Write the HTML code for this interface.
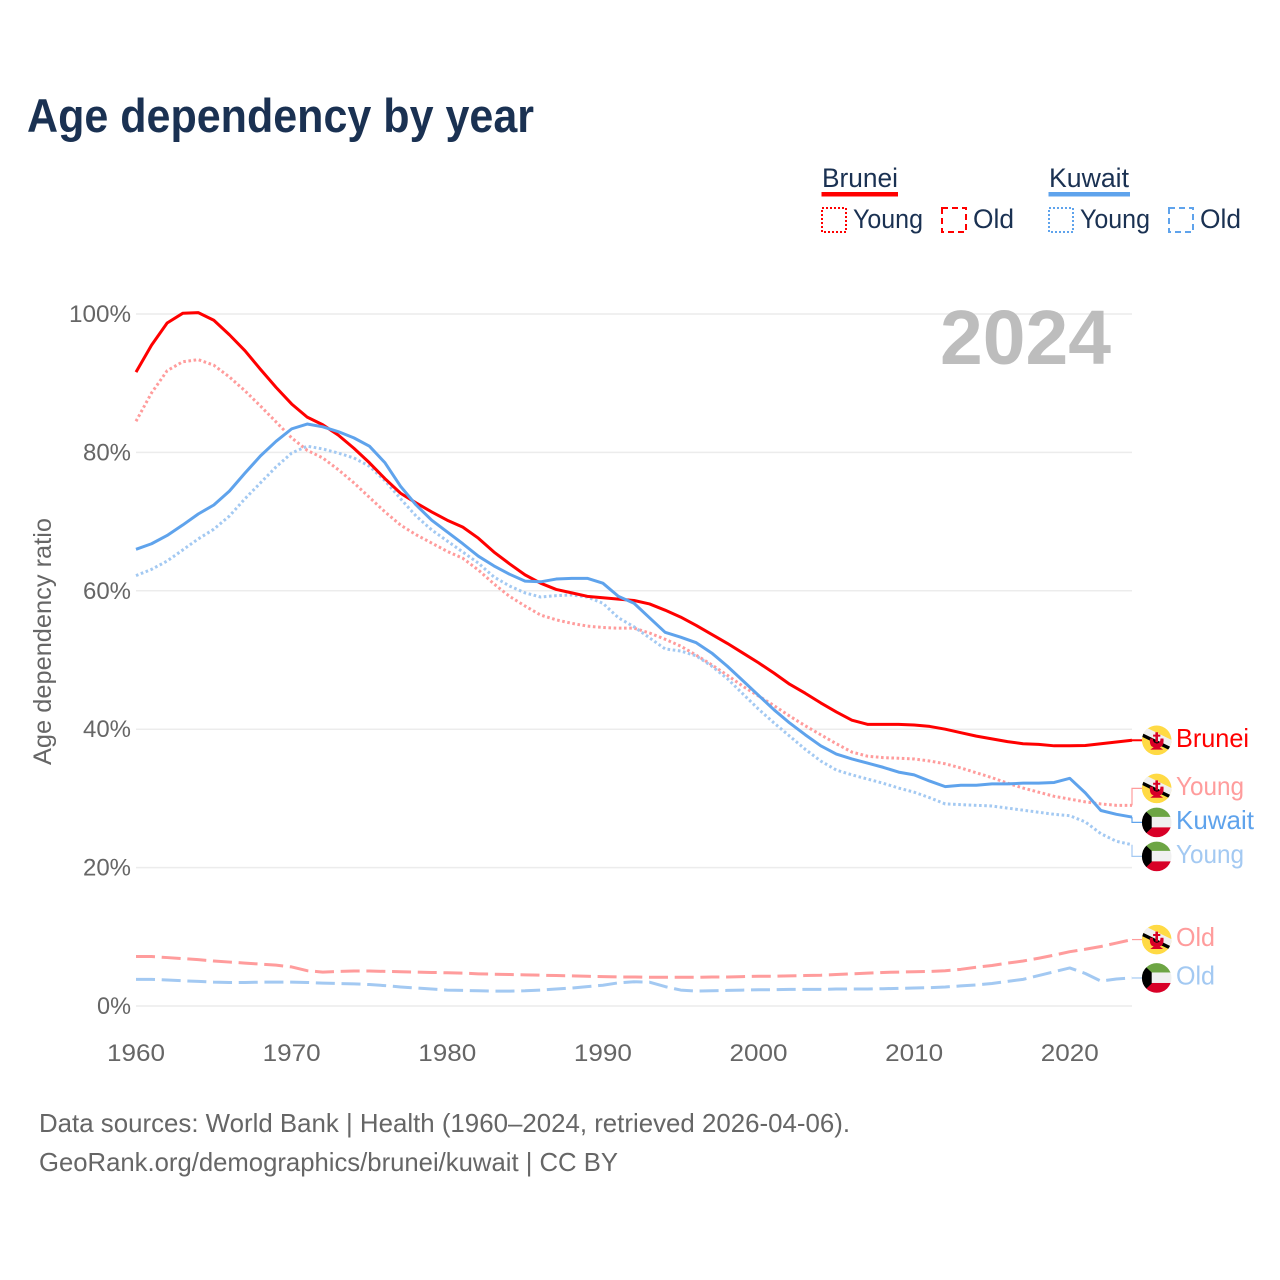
<!DOCTYPE html>
<html lang="en">
<head>
<meta charset="utf-8">
<title>Age dependency by year</title>
<style>
html,body{margin:0;padding:0;background:#fff;}
svg{display:block;}
text{font-family:"Liberation Sans","DejaVu Sans",sans-serif;}
</style>
</head>
<body>
<svg id="chart" xmlns="http://www.w3.org/2000/svg" width="1280" height="1280" viewBox="0 0 1280 1280">
  <defs>
    <clipPath id="flag-clip"><circle cx="0" cy="0" r="14.8"/></clipPath>
    <g id="flag-brunei" clip-path="url(#flag-clip)">
      <circle cx="0" cy="0" r="15" fill="#ffda44"/>
      <line x1="-18" y1="-12.5" x2="18" y2="5" stroke="#f0f0f0" stroke-width="7"/>
      <line x1="-18" y1="-7" x2="18" y2="10.5" stroke="#000" stroke-width="3.4"/>
      <path d="M-1.3,-8 L1.3,-8 L1.3,-5.6 L3.6,-5.6 L3.6,-3.6 L1.3,-3.6 L1.3,2 L-1.3,2 L-1.3,-3.6 L-3.6,-3.6 L-3.6,-5.6 L-1.3,-5.6 Z M-6.8,-1.8 L-3.8,-1.8 Q-3.8,3 0,3.2 Q3.8,3 3.8,-1.8 L6.8,-1.8 Q7.4,6.5 3,6.8 L6.4,9.4 L-6.4,9.4 L-3,6.8 Q-7.4,6.5 -6.8,-1.8 Z" fill="#d80027"/>
    </g>
    <g id="flag-kuwait" clip-path="url(#flag-clip)">
      <rect x="-15" y="-15" width="30" height="10" fill="#6da544"/>
      <rect x="-15" y="-5.5" width="30" height="11" fill="#f0f0f0"/>
      <rect x="-15" y="5" width="30" height="10" fill="#d80027"/>
      <polygon points="-15,-15 -5,-5.5 -5,5.5 -15,15" fill="#000"/>
    </g>
  </defs>

  <text x="27" y="132" font-size="47" font-weight="700" fill="#1a3152" textLength="507" lengthAdjust="spacingAndGlyphs">Age dependency by year</text>

  <g>
    <text x="822" y="187" font-size="27" fill="#1a3152" textLength="76" lengthAdjust="spacingAndGlyphs">Brunei</text>
    <rect x="821.5" y="192" width="76.5" height="4.5" fill="#ff0000"/>
    <rect x="822" y="208" width="24" height="24" fill="none" stroke="#ff0000" stroke-width="2" stroke-dasharray="2,2"/>
    <text x="853" y="228" font-size="27" fill="#1a3152" textLength="70" lengthAdjust="spacingAndGlyphs">Young</text>
    <rect x="942" y="208" width="24" height="24" fill="none" stroke="#ff0000" stroke-width="2" stroke-dasharray="6,4"/>
    <text x="973" y="228" font-size="27" fill="#1a3152" textLength="41" lengthAdjust="spacingAndGlyphs">Old</text>

    <text x="1049" y="187" font-size="27" fill="#1a3152" textLength="80" lengthAdjust="spacingAndGlyphs">Kuwait</text>
    <rect x="1048.5" y="192" width="81.5" height="4.5" fill="#5fa3ec"/>
    <rect x="1049" y="208" width="24" height="24" fill="none" stroke="#5fa3ec" stroke-width="2" stroke-dasharray="2,2"/>
    <text x="1080" y="228" font-size="27" fill="#1a3152" textLength="70" lengthAdjust="spacingAndGlyphs">Young</text>
    <rect x="1169" y="208" width="24" height="24" fill="none" stroke="#5fa3ec" stroke-width="2" stroke-dasharray="6,4"/>
    <text x="1200" y="228" font-size="27" fill="#1a3152" textLength="41" lengthAdjust="spacingAndGlyphs">Old</text>
  </g>

  <g id="grid"></g>
  <g id="y-ticks"></g>
  <g id="x-ticks"></g>

  <text transform="translate(51,641.5) rotate(-90)" text-anchor="middle" font-size="25" fill="#666666" textLength="247" lengthAdjust="spacingAndGlyphs">Age dependency ratio</text>

  <text x="940" y="364" font-size="77" font-weight="700" fill="#bdbdbd" textLength="171" lengthAdjust="spacingAndGlyphs">2024</text>

  <g id="series"></g>
  <g id="end-labels"></g>

  <text x="39" y="1132" font-size="26" fill="#666666" textLength="811" lengthAdjust="spacingAndGlyphs">Data sources: World Bank | Health (1960–2024, retrieved 2026-04-06).</text>
  <text x="39" y="1171" font-size="26" fill="#666666" textLength="579" lengthAdjust="spacingAndGlyphs">GeoRank.org/demographics/brunei/kuwait | CC BY</text>
</svg>

<script>
const years = [1960,1961,1962,1963,1964,1965,1966,1967,1968,1969,1970,1971,1972,1973,1974,1975,1976,1977,1978,1979,1980,1981,1982,1983,1984,1985,1986,1987,1988,1989,1990,1991,1992,1993,1994,1995,1996,1997,1998,1999,2000,2001,2002,2003,2004,2005,2006,2007,2008,2009,2010,2011,2012,2013,2014,2015,2016,2017,2018,2019,2020,2021,2022,2023,2024];
const bruneiTotal = [91.6,95.5,98.7,100.1,100.2,99.1,97.0,94.7,92.0,89.4,87.0,85.1,84.0,82.5,80.6,78.5,76.2,74.1,72.7,71.4,70.2,69.2,67.6,65.6,63.9,62.3,61.1,60.2,59.7,59.2,59.0,58.8,58.6,58.1,57.2,56.2,55.0,53.7,52.4,51.0,49.6,48.1,46.5,45.2,43.8,42.5,41.3,40.7,40.7,40.7,40.6,40.4,40.0,39.5,39.0,38.6,38.2,37.9,37.8,37.6,37.6,37.65,37.9,38.15,38.4];
const bruneiYoung = [84.5,88.6,91.8,93.1,93.4,92.6,90.9,88.9,86.7,84.4,82.1,80.3,79.2,77.5,75.6,73.5,71.4,69.5,68.1,66.9,65.7,64.7,63.0,61.0,59.2,57.8,56.5,55.8,55.3,54.9,54.7,54.6,54.6,53.9,53.0,52.0,50.7,49.3,47.8,46.2,44.8,43.4,41.9,40.5,39.2,37.9,36.7,36.1,35.9,35.8,35.7,35.4,35.0,34.4,33.7,33.0,32.2,31.5,30.9,30.3,29.9,29.5,29.2,29.0,29.0];
const bruneiOld = [7.15,7.15,7.0,6.85,6.7,6.5,6.35,6.2,6.05,5.9,5.65,5.1,4.9,5.0,5.05,5.05,5.0,4.95,4.9,4.85,4.8,4.75,4.65,4.6,4.55,4.5,4.45,4.4,4.35,4.3,4.25,4.2,4.2,4.15,4.15,4.15,4.15,4.2,4.2,4.25,4.3,4.3,4.35,4.4,4.45,4.55,4.65,4.75,4.85,4.9,4.95,5.0,5.1,5.3,5.6,5.85,6.2,6.5,6.9,7.35,7.85,8.2,8.6,9.1,9.6];
const kuwaitTotal = [66.0,66.8,68.0,69.5,71.1,72.4,74.4,77.0,79.5,81.6,83.4,84.1,83.7,83.0,82.1,80.9,78.5,75.1,72.4,70.2,68.5,66.8,65.0,63.6,62.4,61.4,61.3,61.7,61.8,61.8,61.1,59.2,58.2,56.1,54.0,53.3,52.5,51.0,49.1,47.0,44.9,42.8,40.9,39.2,37.6,36.4,35.7,35.1,34.5,33.8,33.4,32.5,31.7,31.9,31.9,32.1,32.1,32.2,32.2,32.3,32.9,30.8,28.25,27.7,27.3];
const kuwaitYoung = [62.2,63.1,64.3,65.9,67.5,68.9,70.8,73.3,75.6,77.9,79.9,80.9,80.5,79.9,79.2,78.0,75.9,73.3,70.8,68.8,67.2,65.6,64.0,62.0,60.7,59.7,59.1,59.3,59.4,59.1,58.2,56.1,54.8,53.2,51.6,51.3,50.6,49.1,47.3,45.1,42.9,40.9,39.0,37.1,35.4,34.1,33.4,32.8,32.2,31.5,30.9,30.1,29.2,29.1,29.0,28.9,28.6,28.3,28.0,27.7,27.5,26.6,24.9,23.8,23.3];
const kuwaitOld = [3.85,3.85,3.75,3.65,3.55,3.45,3.4,3.4,3.45,3.45,3.45,3.4,3.3,3.25,3.2,3.1,2.95,2.75,2.6,2.45,2.3,2.25,2.2,2.15,2.15,2.2,2.3,2.45,2.6,2.8,3.0,3.35,3.5,3.45,2.8,2.3,2.15,2.2,2.25,2.3,2.35,2.35,2.4,2.4,2.4,2.45,2.45,2.45,2.5,2.55,2.6,2.65,2.75,2.9,3.05,3.25,3.55,3.85,4.4,4.95,5.5,4.7,3.6,3.9,4.05];
const yTickValues = [0,20,40,60,80,100];
const yTickLabels = ["0%","20%","40%","60%","80%","100%"];
const xTickValues = [1960,1970,1980,1990,2000,2010,2020];
const xTickLabels = ["1960","1970","1980","1990","2000","2010","2020"];

const NS = "http://www.w3.org/2000/svg";
const plotLeft = 136, plotRight = 1132, plotTop = 314, plotBottom = 1006;
const leaderEnd = 1143, flagX = 1156.7, labelX = 1176, labelGap = 34;

function xScale(year) {
  return plotLeft + (year - years[0]) / (years[years.length - 1] - years[0]) * (plotRight - plotLeft);
}
function yScale(value) {
  return plotBottom - value / 100 * (plotBottom - plotTop);
}
function make(tag, parent) {
  const el = document.createElementNS(NS, tag);
  parent.appendChild(el);
  return el;
}

const grid = document.getElementById("grid");
const yTicksGroup = document.getElementById("y-ticks");
yTickValues.forEach(function (value, i) {
  const line = make("line", grid);
  
  
  line.setAttribute("x1", plotLeft);
  line.setAttribute("x2", plotRight);
  line.setAttribute("y1", yScale(value));
  line.setAttribute("y2", yScale(value));
  line.setAttribute("stroke", "#ececec");
  line.setAttribute("stroke-width", "1.5");

  const label = make("text", yTicksGroup);
  
  
  label.setAttribute("x", 131);
  label.setAttribute("y", yScale(value) + 8);
  label.setAttribute("text-anchor", "end");
  label.setAttribute("font-size", "24");
  label.setAttribute("fill", "#666666");
  label.setAttribute("textLength", yTickLabels[i].length * 14 + 6);
  label.setAttribute("lengthAdjust", "spacingAndGlyphs");
  label.textContent = yTickLabels[i];
});

const xTicksGroup = document.getElementById("x-ticks");
xTickValues.forEach(function (value, i) {
  const label = make("text", xTicksGroup);
  
  
  label.setAttribute("x", xScale(value));
  label.setAttribute("y", 1061);
  label.setAttribute("text-anchor", "middle");
  label.setAttribute("font-size", "24");
  label.setAttribute("fill", "#666666");
  label.setAttribute("textLength", "58");
  label.setAttribute("lengthAdjust", "spacingAndGlyphs");
  label.textContent = xTickLabels[i];
});

const seriesGroup = document.getElementById("series");
function drawLine(values, color, width, dash) {
  const path = make("polyline", seriesGroup);
  path.setAttribute("points", values.map(function (v, i) {
    return xScale(years[i]).toFixed(2) + "," + yScale(v).toFixed(2);
  }).join(" "));
  path.setAttribute("fill", "none");
  path.setAttribute("stroke", color);
  path.setAttribute("stroke-width", width);
  path.setAttribute("stroke-linejoin", "round");
  if (dash) path.setAttribute("stroke-dasharray", dash);
  return path;
}

const redMain = "#ff0000", redPale = "#ff9c9c", blueMain = "#5fa3ec", bluePale = "#a3c9f2";
const dotted = "2.6,2.6", dashed = "19,6.7";

const lineBruneiOld = drawLine(bruneiOld, redPale, 3, dashed);


const lineKuwaitOld = drawLine(kuwaitOld, bluePale, 3, dashed);


const lineBruneiYoung = drawLine(bruneiYoung, redPale, 3, dotted);


const lineKuwaitYoung = drawLine(kuwaitYoung, bluePale, 3, dotted);


const lineBruneiTotal = drawLine(bruneiTotal, redMain, 3);


const lineKuwaitTotal = drawLine(kuwaitTotal, blueMain, 3);



/* End labels: placed at the last value, then overlapping labels are spread apart. */
const endItems = [
  { text: "Brunei", values: bruneiTotal, color: redMain,  flag: "#flag-brunei", width: 73, dash: "" },
  { text: "Young",  values: bruneiYoung, color: redPale,  flag: "#flag-brunei", width: 68, dash: "" },
  { text: "Old",    values: bruneiOld,   color: redPale,  flag: "#flag-brunei", width: 39, dash: "10,4" },
  { text: "Kuwait", values: kuwaitTotal, color: blueMain, flag: "#flag-kuwait", width: 78, dash: "" },
  { text: "Young",  values: kuwaitYoung, color: bluePale, flag: "#flag-kuwait", width: 68, dash: "" },
  { text: "Old",    values: kuwaitOld,   color: bluePale, flag: "#flag-kuwait", width: 39, dash: "10,4" }
];
endItems.forEach(function (item) {
  item.lineY = yScale(item.values[item.values.length - 1]);
});
const sortedItems = endItems.slice().sort(function (a, b) { return a.lineY - b.lineY; });
let clusters = sortedItems.map(function (item) { return { items: [item] }; });
function clusterTop(c) {
  const mean = c.items.reduce(function (s, it) { return s + it.lineY; }, 0) / c.items.length;
  return mean - (c.items.length - 1) * labelGap / 2;
}
let merged = true;
while (merged) {
  merged = false;
  for (let i = 0; i < clusters.length - 1; i++) {
    const bottomA = clusterTop(clusters[i]) + (clusters[i].items.length - 1) * labelGap;
    if (clusterTop(clusters[i + 1]) - bottomA < labelGap) {
      clusters[i].items = clusters[i].items.concat(clusters[i + 1].items);
      clusters.splice(i + 1, 1);
      merged = true;
      break;
    }
  }
}
clusters.forEach(function (c) {
  const top = clusterTop(c);
  c.items.forEach(function (item, i) { item.labelY = top + i * labelGap; });
});

const endGroup = document.getElementById("end-labels");
endItems.forEach(function (item) {
  const leader = make("path", endGroup);
  
  
  leader.setAttribute("d", "M" + plotRight + "," + item.lineY + " L" + plotRight + "," + item.labelY + " L" + leaderEnd + "," + item.labelY);
  leader.setAttribute("fill", "none");
  leader.setAttribute("stroke", item.color);
  leader.setAttribute("stroke-width", item.text === "Brunei" ? "2" : "1.2");
  if (item.dash) leader.setAttribute("stroke-dasharray", item.dash);

  const flag = make("use", endGroup);
  
  
  flag.setAttribute("href", item.flag);
  flag.setAttribute("transform", "translate(" + flagX + "," + item.labelY + ")");

  const label = make("text", endGroup);
  
  
  label.setAttribute("x", labelX);
  label.setAttribute("y", item.labelY + 6.5);
  label.setAttribute("font-size", "26");
  label.setAttribute("fill", item.color);
  label.setAttribute("textLength", item.width);
  label.setAttribute("lengthAdjust", "spacingAndGlyphs");
  label.textContent = item.text;
});
</script>
</body>
</html>
